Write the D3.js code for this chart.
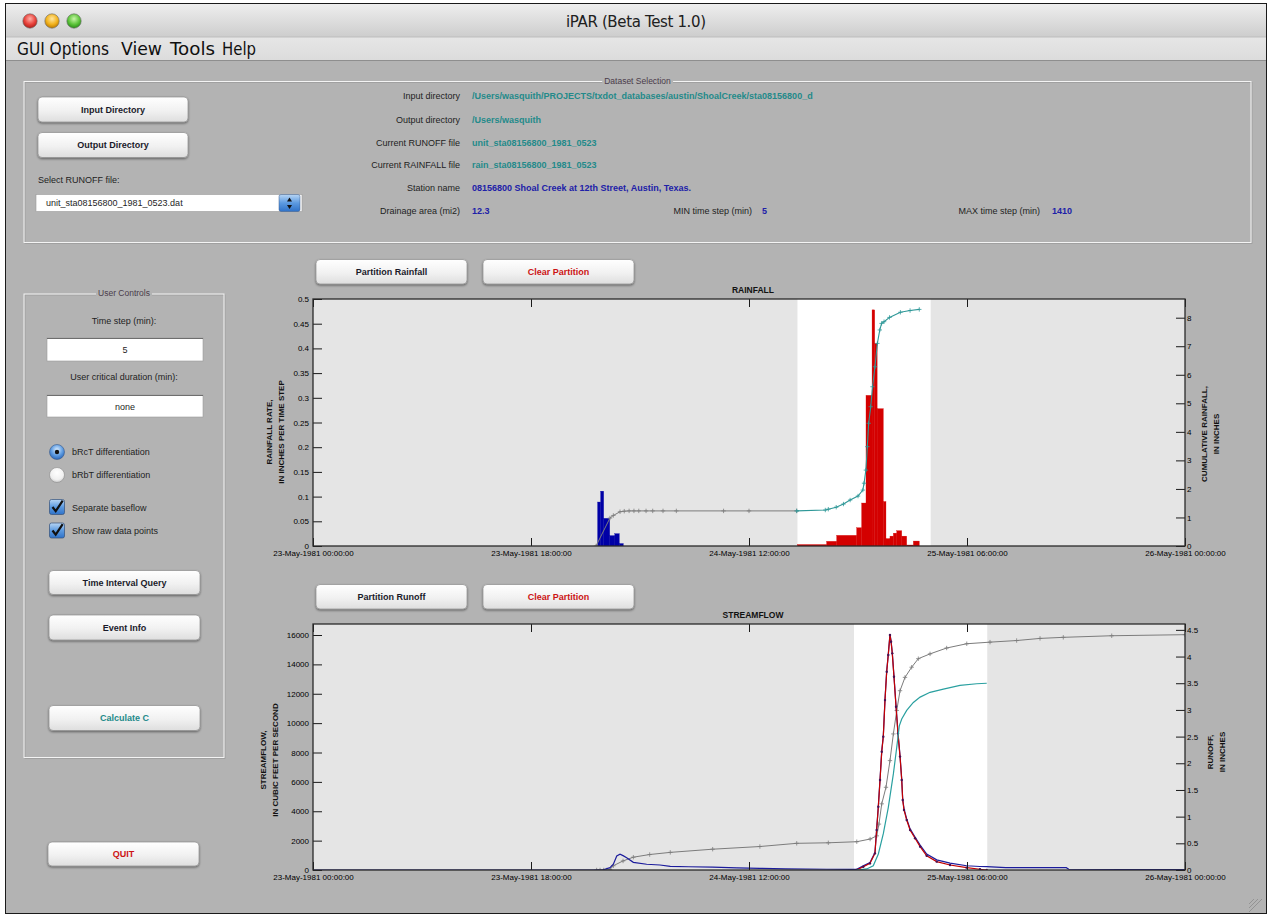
<!DOCTYPE html>
<html><head><meta charset="utf-8">
<script src="https://cdn.jsdelivr.net/npm/d3@7"></script>
<style>
html,body{margin:0;padding:0;background:#fff;}
svg{display:block;font-family:"Liberation Sans",Arial,Helvetica,sans-serif;}
</style></head><body>
<svg id="app" width="1271" height="918"></svg>
<script>
// ---------- data (times are hours after 23-May-1981 00:00:00) ----------
const xTickHours = [0, 18, 36, 54, 72];
const rainLeftTicks = [0, 0.05, 0.1, 0.15, 0.2, 0.25, 0.3, 0.35, 0.4, 0.45, 0.5];
const rainLeftLabels = ["0", "0.05", "0.1", "0.15", "0.2", "0.25", "0.3", "0.35", "0.4", "0.45", "0.5"];
const rainRightTicks = [0, 1, 2, 3, 4, 5, 6, 7, 8];
const flowLeftTicks = [0, 2000, 4000, 6000, 8000, 10000, 12000, 14000, 16000];
const flowRightTicks = [0, 0.5, 1, 1.5, 2, 2.5, 3, 3.5, 4, 4.5];

// partition windows (white band)
const rainPartition = [40.0, 51.0];
const flowPartition = [44.67, 55.67];

// rainfall, inches per time step, as steps between edges
const preRainEdges = [23.5, 23.75, 24.0, 24.5, 24.92, 25.29, 25.62];
const preRainRate = [0.089, 0.111, 0.056, 0.021, 0.025, 0.005];
const eventRainEdges = [40.0, 42.41, 43.24, 44.89, 45.30, 45.66, 46.16, 46.38, 46.58, 47.09, 47.31, 47.64, 47.92, 48.2, 48.61, 49.02, 49.57, 50.06];
const eventRainRate = [0.003, 0.0095, 0.0216, 0.037, 0.087, 0.305, 0.478, 0.41, 0.278, 0.09, 0.015, 0.02, 0.026, 0.031, 0.02, 0.002, 0.01];

// cumulative rainfall, inches
const preCumRainHours = [23.37, 24.52, 24.8, 25.35, 25.7, 26.1, 26.5, 26.9, 27.5, 28.05, 28.9, 30.0, 33.9, 36.0, 39.94];
const preCumRainIn = [0, 0.98, 1.07, 1.2, 1.22, 1.23, 1.23, 1.23, 1.23, 1.23, 1.23, 1.23, 1.23, 1.23, 1.23];
const eventCumRainHours = [39.94, 42.3, 42.55, 43.2, 43.8, 44.35, 45.0, 45.4, 45.5, 45.65, 45.77, 45.88, 46.05, 46.2, 46.4, 46.6, 46.8, 46.95, 47.15, 47.6, 48.5, 49.3, 50.06];
const eventCumRainIn = [1.23, 1.26, 1.29, 1.36, 1.47, 1.61, 1.75, 1.96, 2.2, 2.66, 3.48, 4.3, 4.88, 5.58, 6.28, 7.1, 7.57, 7.8, 7.86, 8.01, 8.19, 8.25, 8.29];

// total streamflow, cubic feet per second
const flowHours = [0, 23.9, 24.52, 24.8, 25.08, 25.35, 25.6, 25.9, 26.45, 27.55, 28.65, 29.5, 31, 33, 35, 36.9, 39, 42.4, 44.67, 44.89, 45.44, 45.99, 46.4, 46.54, 46.68, 46.82, 46.96, 47.09, 47.23, 47.37, 47.5, 47.64, 47.73, 47.83, 47.97, 48.14, 48.3, 48.47, 48.61, 48.69, 48.8, 49.02, 49.3, 49.71, 50.13, 50.67, 51.5, 52.6, 53.97, 55.07, 55.63, 57.2, 62.2, 62.4, 72];
const flowCfs = [0, 0, 160, 390, 950, 1070, 980, 840, 520, 390, 340, 250, 220, 190, 150, 115, 80, 50, 40, 45, 280, 510, 1190, 2780, 4370, 6190, 8110, 9140, 11630, 13560, 14700, 16060, 15600, 14810, 13220, 11180, 9360, 7790, 6200, 4840, 4160, 3480, 2800, 2250, 1690, 1080, 690, 470, 290, 240, 225, 160, 160, 50, 30];

// direct runoff within the partition, cubic feet per second
const directHours = [44.89, 45.44, 45.99, 46.4, 46.54, 46.68, 46.82, 46.96, 47.09, 47.23, 47.37, 47.5, 47.64, 47.73, 47.83, 47.97, 48.14, 48.3, 48.47, 48.61, 48.69, 48.8, 49.02, 49.3, 49.71, 50.13, 50.67, 51.5, 52.6, 53.97, 55.07, 55.63];
const directCfs = [0, 225, 450, 1130, 2720, 4310, 6130, 8050, 9080, 11570, 13500, 14640, 16000, 15540, 14750, 13160, 11120, 9300, 7720, 6130, 4770, 4090, 3400, 2720, 2160, 1590, 970, 570, 340, 160, 50, 0];

// cumulative runoff, inches
const cumRunoffHours = [23.42, 23.7, 24.0, 24.25, 24.52, 24.8, 25.6, 26.45, 27.8, 29.5, 33, 36.9, 39.94, 42.55, 44.9, 46.0, 46.55, 46.73, 46.96, 47.31, 47.64, 47.92, 48.2, 48.47, 48.88, 49.43, 49.98, 50.95, 52.32, 53.98, 55.9, 58.1, 60.03, 61.95, 65.95, 72];
const cumRunoffIn = [0, 0, 0, 0, 0.01, 0.08, 0.17, 0.24, 0.29, 0.33, 0.39, 0.44, 0.5, 0.51, 0.53, 0.58, 0.64, 0.86, 1.24, 1.55, 2.05, 2.55, 2.99, 3.36, 3.61, 3.8, 3.96, 4.05, 4.16, 4.24, 4.27, 4.3, 4.34, 4.36, 4.39, 4.41];

// cumulative direct runoff within the partition, inches
const cumDirectHours = [44.89, 45.72, 46.26, 46.68, 47.09, 47.5, 47.92, 48.2, 48.41, 48.61, 49.02, 49.57, 50.13, 50.95, 52.05, 53.42, 54.8, 55.63];
const cumDirectIn = [0, 0.02, 0.08, 0.3, 0.68, 1.17, 1.8, 2.3, 2.7, 2.83, 2.99, 3.14, 3.24, 3.33, 3.39, 3.46, 3.49, 3.5];

// ---------- helpers ----------
const T = h => new Date(Date.UTC(1981, 4, 23) + h * 3600000);
const fmtTime = d3.utcFormat("%d-%b-%Y %H:%M:%S");
const svg = d3.select("#app");
const defs = svg.append("defs");

function vGrad(id, stops) {
  const g = defs.append("linearGradient").attr("id", id).attr("x1", 0).attr("y1", 0).attr("x2", 0).attr("y2", 1);
  stops.forEach(([o, c]) => g.append("stop").attr("offset", o).attr("stop-color", c));
}
function rGrad(id, stops) {
  const g = defs.append("radialGradient").attr("id", id).attr("cx", "50%").attr("cy", "35%").attr("r", "65%");
  stops.forEach(([o, c]) => g.append("stop").attr("offset", o).attr("stop-color", c));
}
vGrad("titleGrad", [["0%", "#eeeeee"], ["100%", "#cdcdcd"]]);
vGrad("menuGrad", [["0%", "#e6e6e6"], ["100%", "#dcdcdc"]]);
vGrad("btnGrad", [["0%", "#ffffff"], ["55%", "#f1f1f1"], ["100%", "#dedede"]]);
vGrad("blueGrad", [["0%", "#b8d6f5"], ["50%", "#5c9ae0"], ["100%", "#2f72c8"]]);
rGrad("redLight", [["0%", "#ffb0a8"], ["60%", "#e8413a"], ["100%", "#a8201a"]]);
rGrad("yelLight", [["0%", "#ffe6a0"], ["60%", "#f2b21c"], ["100%", "#b87800"]]);
rGrad("grnLight", [["0%", "#c8f5a8"], ["60%", "#5cc43a"], ["100%", "#2a8a18"]]);
rGrad("radioOn", [["0%", "#d8ecff"], ["60%", "#5c9ae0"], ["100%", "#2a66b8"]]);
rGrad("radioOff", [["0%", "#ffffff"], ["70%", "#f0f0f0"], ["100%", "#c8c8c8"]]);
const shadow = defs.append("filter").attr("id", "btnShadow").attr("x", "-10%").attr("y", "-20%").attr("width", "120%").attr("height", "160%");
shadow.append("feDropShadow").attr("dx", 0).attr("dy", 1.2).attr("stdDeviation", 0.9).attr("flood-color", "#000").attr("flood-opacity", 0.45);

function text(x, y, s, o = {}) {
  return svg.append("text").attr("x", x).attr("y", y).text(s)
    .attr("font-size", o.size || 9).attr("fill", o.color || "#1e1e1e")
    .attr("font-weight", o.weight || "normal")
    .attr("text-anchor", o.anchor || "start")
    .attr("dominant-baseline", "central")
    .attr("font-family", o.family || null);
}
function button(x, y, w, h, label, color) {
  svg.append("rect").attr("x", x).attr("y", y).attr("width", w).attr("height", h).attr("rx", 4)
    .attr("fill", "url(#btnGrad)").attr("stroke", "#8c8c8c").attr("stroke-width", 0.7).attr("filter", "url(#btnShadow)");
  text(x + w / 2, y + h / 2, label, { anchor: "middle", weight: "bold", color: color || "#1a1a2a", size: 9 });
}
function panel(x, y, w, h, title) {
  svg.append("rect").attr("x", x + 1).attr("y", y + 1).attr("width", w).attr("height", h)
    .attr("fill", "none").attr("stroke", "#9c9c9c").attr("stroke-width", 0.8);
  svg.append("rect").attr("x", x).attr("y", y).attr("width", w).attr("height", h)
    .attr("fill", "none").attr("stroke", "#f4f4f4").attr("stroke-width", 1);
  const t = text(x + w / 2, y - 1, title, { anchor: "middle", size: 8.5, color: "#4a3c4a" });
  const bb = t.node().getBBox();
  svg.insert("rect", () => t.node()).attr("x", bb.x - 2).attr("y", y - 2).attr("width", bb.width + 4).attr("height", 4).attr("fill", "#b3b3b3");
}
function textBox(x, y, w, h, s) {
  svg.append("rect").attr("x", x).attr("y", y).attr("width", w).attr("height", h).attr("fill", "#fff")
    .attr("stroke", "#9a9a9a").attr("stroke-width", 0.6);
  svg.append("line").attr("x1", x).attr("x2", x + w).attr("y1", y + 0.5).attr("y2", y + 0.5).attr("stroke", "#6e6e6e").attr("stroke-width", 1);
  text(x + w / 2, y + h / 2 + 0.5, s, { anchor: "middle", size: 9 });
}

// ---------- window chrome ----------
svg.append("rect").attr("x", 0).attr("y", 0).attr("width", 1271).attr("height", 918).attr("fill", "#fff");
svg.append("rect").attr("x", 5.5).attr("y", 3.5).attr("width", 1261).attr("height", 910).attr("fill", "#b3b3b3").attr("stroke", "#1a1a1a").attr("stroke-width", 1);
svg.append("rect").attr("x", 6).attr("y", 4).attr("width", 1260).attr("height", 33).attr("fill", "url(#titleGrad)");
svg.append("rect").attr("x", 6).attr("y", 37).attr("width", 1260).attr("height", 23).attr("fill", "url(#menuGrad)");
svg.append("line").attr("x1", 6).attr("x2", 1266).attr("y1", 37).attr("y2", 37).attr("stroke", "#bdbdbd");
svg.append("line").attr("x1", 6).attr("x2", 1266).attr("y1", 60.5).attr("y2", 60.5).attr("stroke", "#8e8e8e");
[["redLight", 30], ["yelLight", 52], ["grnLight", 74]].forEach(([g, cx]) => {
  svg.append("circle").attr("cx", cx).attr("cy", 21).attr("r", 7.2).attr("fill", `url(#${g})`).attr("stroke", "#6a6a6a").attr("stroke-width", 0.6);
});
text(636, 22, "iPAR (Beta Test 1.0)", { anchor: "middle", size: 15, color: "#202020", family: "'DejaVu Sans',sans-serif" }).attr("textLength", 140);
[["GUI Options", 17, 92], ["View", 121, 41], ["Tools", 170, 45], ["Help", 222, 34]].forEach(([s, x, w]) => {
  text(x, 49, s, { size: 17, color: "#101010", family: "'DejaVu Sans',sans-serif" }).attr("textLength", w).attr("lengthAdjust", "spacingAndGlyphs");
});
// resize grip
[0, 4, 8].forEach(d => {
  svg.append("line").attr("x1", 1262 - d).attr("y1", 899).attr("x2", 1249).attr("y2", 912 - d).attr("stroke", "#8a8a8a").attr("stroke-width", 0.8);
});

// ---------- dataset selection ----------
panel(24, 81.5, 1227, 161, "Dataset Selection");
button(38, 97, 150, 25, "Input Directory");
button(38, 132.5, 150, 25, "Output Directory");
text(38, 180, "Select RUNOFF file:", { size: 9 });
svg.append("rect").attr("x", 36).attr("y", 194.5).attr("width", 266).attr("height", 17).attr("fill", "#fff").attr("stroke", "#9a9a9a").attr("stroke-width", 0.6);
text(46, 203, "unit_sta08156800_1981_0523.dat", { size: 9 });
svg.append("rect").attr("x", 279).attr("y", 194.5).attr("width", 21).attr("height", 17).attr("rx", 2).attr("fill", "url(#blueGrad)").attr("stroke", "#3a5a8a").attr("stroke-width", 0.5);
svg.append("path").attr("d", "M289.5,197.5 l-2.5,4 h5 z M289.5,209 l-2.5,-4 h5 z").attr("fill", "#111");

const dsLabels = ["Input directory", "Output directory", "Current RUNOFF file", "Current RAINFALL file", "Station name", "Drainage area (mi2)"];
const dsValues = ["/Users/wasquith/PROJECTS/txdot_databases/austin/ShoalCreek/sta08156800_d", "/Users/wasquith", "unit_sta08156800_1981_0523", "rain_sta08156800_1981_0523", "08156800 Shoal Creek at 12th Street, Austin, Texas.", "12.3"];
const dsColors = ["#238a8a", "#238a8a", "#238a8a", "#238a8a", "#2020a8", "#2020a8"];
const dsRows = [96, 120, 143, 165, 188, 211];
dsLabels.forEach((s, i) => {
  text(460, dsRows[i], s, { anchor: "end", size: 9 });
  text(472, dsRows[i], dsValues[i], { size: 9, weight: "bold", color: dsColors[i] });
});
text(752, 211, "MIN time step (min)", { anchor: "end", size: 9 });
text(762, 211, "5", { size: 9, weight: "bold", color: "#2020a8" });
text(1040, 211, "MAX time step (min)", { anchor: "end", size: 9 });
text(1052, 211, "1410", { size: 9, weight: "bold", color: "#2020a8" });

// ---------- user controls ----------
panel(24, 294, 200, 463.5, "User Controls");
text(124, 321, "Time step (min):", { anchor: "middle", size: 9 });
textBox(47, 338, 156, 23, "5");
text(124, 377, "User critical duration (min):", { anchor: "middle", size: 9 });
textBox(47, 395, 156, 22, "none");
svg.append("circle").attr("cx", 57).attr("cy", 452).attr("r", 7.5).attr("fill", "url(#radioOn)").attr("stroke", "#3a5a8a").attr("stroke-width", 0.6);
svg.append("circle").attr("cx", 57).attr("cy", 452).attr("r", 2.2).attr("fill", "#111");
svg.append("circle").attr("cx", 57).attr("cy", 475).attr("r", 7.5).attr("fill", "url(#radioOff)").attr("stroke", "#8a8a8a").attr("stroke-width", 0.6);
text(72, 452, "bRcT differentiation", { size: 9 });
text(72, 475, "bRbT differentiation", { size: 9 });
[499.5, 523].forEach(y => {
  svg.append("rect").attr("x", 49.5).attr("y", y).attr("width", 15).attr("height", 15).attr("rx", 2).attr("fill", "url(#blueGrad)").attr("stroke", "#34507a").attr("stroke-width", 0.7);
  svg.append("path").attr("d", `M52.5,${y + 7.5} l3.2,4.2 l7,-10.5`).attr("fill", "none").attr("stroke", "#111").attr("stroke-width", 2.2);
});
text(72, 508, "Separate baseflow", { size: 9 });
text(72, 531, "Show raw data points", { size: 9 });
button(49, 570.5, 151, 24, "Time Interval Query");
button(49, 615, 151, 25, "Event Info");
button(49, 705.5, 151, 25, "Calculate C", "#238a8a");
button(48, 842, 151, 24, "QUIT", "#cc1414");

// ---------- charts ----------
const X0 = 313, X1 = 1185;
function drawChart(o) {
  const g = svg.append("g");
  const x = d3.scaleUtc().domain([T(0), T(72)]).range([X0, X1]);
  const yL = d3.scaleLinear().domain(o.leftDomain).range([o.bottom, o.top]);
  const yR = d3.scaleLinear().domain(o.rightDomain).range([o.bottom, o.top]);
  const clipId = "clip" + o.id;
  defs.append("clipPath").attr("id", clipId).append("rect")
    .attr("x", X0).attr("y", o.top).attr("width", X1 - X0).attr("height", o.bottom - o.top);
  g.append("rect").attr("x", X0).attr("y", o.top).attr("width", X1 - X0).attr("height", o.bottom - o.top).attr("fill", "#e5e5e5");
  g.append("rect").attr("x", x(T(o.partition[0]))).attr("y", o.top)
    .attr("width", x(T(o.partition[1])) - x(T(o.partition[0]))).attr("height", o.bottom - o.top).attr("fill", "#ffffff");
  const plot = g.append("g").attr("clip-path", `url(#${clipId})`);
  o.draw(plot, x, yL, yR);

  const styleAxis = sel => {
    sel.select(".domain").remove();
    sel.selectAll(".tick line").attr("stroke", "#1a1a1a").attr("stroke-width", 1);
    sel.selectAll(".tick text").attr("font-size", 8).attr("fill", "#000").attr("font-family", "'Liberation Sans',Arial,sans-serif");
  };
  g.append("g").attr("transform", `translate(0,${o.bottom})`)
    .call(d3.axisBottom(x).tickValues(xTickHours.map(T)).tickFormat(fmtTime).tickSizeInner(-8).tickSizeOuter(0).tickPadding(4)).call(styleAxis);
  g.append("g").attr("transform", `translate(0,${o.top})`)
    .call(d3.axisTop(x).tickValues(xTickHours.map(T)).tickFormat(() => "").tickSizeInner(-8).tickSizeOuter(0)).call(styleAxis);
  g.append("g").attr("transform", `translate(${X0},0)`)
    .call(d3.axisLeft(yL).tickValues(o.leftTicks).tickFormat((d, i) => o.leftLabels[i]).tickSizeInner(-9).tickSizeOuter(0).tickPadding(4)).call(styleAxis);
  g.append("g").attr("transform", `translate(${X1},0)`)
    .call(d3.axisRight(yR).tickValues(o.rightTicks).tickFormat(d3.format("~g")).tickSizeInner(-9).tickSizeOuter(0).tickPadding(2)).call(styleAxis);
  g.append("rect").attr("x", X0).attr("y", o.top).attr("width", X1 - X0).attr("height", o.bottom - o.top)
    .attr("fill", "none").attr("stroke", "#2a2a2a").attr("stroke-width", 1.3);

  text((X0 + X1) / 2 + 4, o.top - 9, o.title, { anchor: "middle", size: 8.5, weight: "bold", color: "#111" });
  const mid = o.labelMid;
  o.leftLabel.forEach((s, i) => {
    svg.append("text").attr("transform", `translate(${o.leftLabelX[i]},${mid}) rotate(-90)`).text(s)
      .attr("text-anchor", "middle").attr("dominant-baseline", "central").attr("font-size", 8).attr("font-weight", "bold").attr("fill", "#111");
  });
  o.rightLabel.forEach((s, i) => {
    svg.append("text").attr("transform", `translate(${o.rightLabelX[i]},${o.rightLabelMid}) rotate(-90)`).text(s)
      .attr("text-anchor", "middle").attr("dominant-baseline", "central").attr("font-size", 8).attr("font-weight", "bold").attr("fill", "#111");
  });
}

const plus = "M-2.2,0H2.2M0,-2.2V2.2";
function steps(plot, x, y, edges, vals, color) {
  plot.selectAll(null).data(vals).enter().append("rect")
    .attr("x", (d, i) => x(T(edges[i])))
    .attr("width", (d, i) => x(T(edges[i + 1])) - x(T(edges[i])))
    .attr("y", d => y(d)).attr("height", d => y(0) - y(d))
    .attr("fill", color).attr("stroke", color).attr("stroke-width", 0.3);
}
function line(plot, x, y, hrs, vals, color, width, marker) {
  const pts = hrs.map((h, i) => [x(T(h)), y(vals[i])]);
  plot.append("path").attr("d", d3.line()(pts)).attr("fill", "none").attr("stroke", color).attr("stroke-width", width);
  if (marker === "plus") {
    plot.selectAll(null).data(pts).enter().append("path").attr("d", plus)
      .attr("transform", d => `translate(${d[0]},${d[1]})`).attr("stroke", color).attr("stroke-width", 0.8).attr("fill", "none");
  } else if (marker === "dot") {
    plot.selectAll(null).data(pts).enter().append("circle").attr("cx", d => d[0]).attr("cy", d => d[1]).attr("r", 1.2).attr("fill", "#4a1050");
  }
}

button(316, 259.5, 151, 24.5, "Partition Rainfall");
button(483, 259.5, 151, 24.5, "Clear Partition", "#cc1414");
drawChart({
  id: "rain", top: 299, bottom: 546, partition: rainPartition,
  leftDomain: [0, 0.5], rightDomain: [0, 8.655],
  leftTicks: rainLeftTicks, leftLabels: rainLeftLabels, rightTicks: rainRightTicks,
  title: "RAINFALL",
  leftLabel: ["RAINFALL RATE,", "IN INCHES PER TIME STEP"], leftLabelX: [269, 281], labelMid: 432,
  rightLabel: ["CUMULATIVE RAINFALL,", "IN INCHES"], rightLabelX: [1204, 1216], rightLabelMid: 434,
  draw(plot, x, yL, yR) {
    steps(plot, x, yL, preRainEdges, preRainRate, "#0000a6");
    steps(plot, x, yL, eventRainEdges, eventRainRate, "#d40000");
    line(plot, x, yR, preCumRainHours, preCumRainIn, "#7c7c7c", 1, "plus");
    line(plot, x, yR, eventCumRainHours, eventCumRainIn, "#2f9898", 1.1, "plus");
  }
});

button(316, 584.5, 151, 24.5, "Partition Runoff");
button(483, 584.5, 151, 24.5, "Clear Partition", "#cc1414");
drawChart({
  id: "flow", top: 624, bottom: 870, partition: flowPartition,
  leftDomain: [0, 16750], rightDomain: [0, 4.61],
  leftTicks: flowLeftTicks, leftLabels: flowLeftTicks.map(String), rightTicks: flowRightTicks,
  title: "STREAMFLOW",
  leftLabel: ["STREAMFLOW,", "IN CUBIC FEET PER SECOND"], leftLabelX: [263, 275], labelMid: 760,
  rightLabel: ["RUNOFF,", "IN INCHES"], rightLabelX: [1210, 1222], rightLabelMid: 752,
  draw(plot, x, yL, yR) {
    line(plot, x, yR, cumRunoffHours, cumRunoffIn, "#7c7c7c", 1, "plus");
    line(plot, x, yL, flowHours, flowCfs, "#1c1c9c", 1.2);
    line(plot, x, yL, directHours, directCfs, "#c40000", 1.2, "dot");
    line(plot, x, yR, cumDirectHours, cumDirectIn, "#2aa0a0", 1.2);
  }
});
</script></body></html>
